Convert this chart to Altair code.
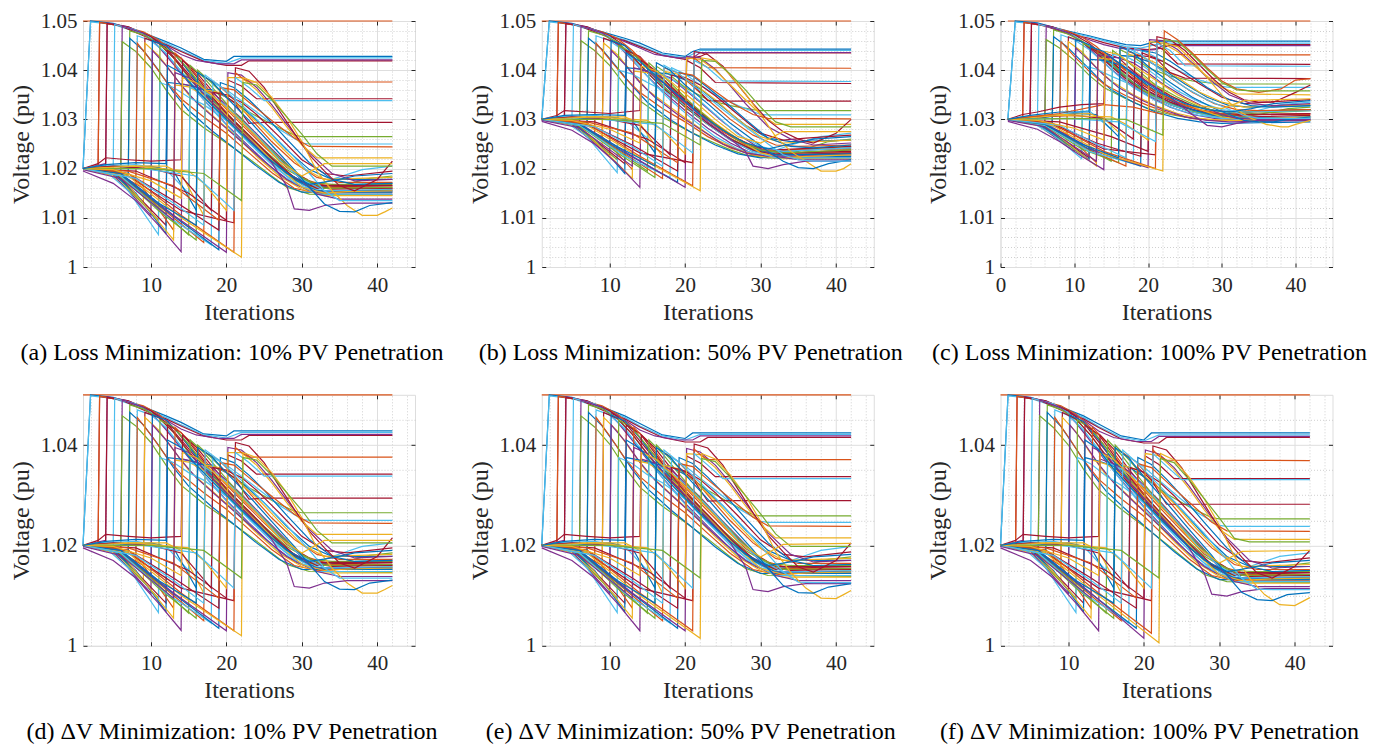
import altair as alt
import pandas as pd

COLORS = ["#0072BD", "#D95319", "#EDB120", "#7E2F8E", "#77AC30", "#4DBEEE", "#A2142F"]
LINE_COLORS = [1, 0, 5, 6, 3, 1, 6, 5, 3, 4, 4, 0, 5, 1, 6, 2, 0, 3, 4, 5,
               6, 0, 1, 2, 6, 3, 4, 5, 4, 0, 1, 2, 5, 6, 0, 6, 3, 6, 2, 6,
               1, 5, 2, 1, 3, 0, 5, 4, 2, 0]

# Each line: [iteration, voltage, iteration, voltage, ...]
LINES_A = [
    [1,1.05, 42,1.05],
    [1,1.02, 2,1.05, 5,1.0495, 9,1.0476, 12,1.0458, 14,1.0445, 17,1.0422, 20,1.0418, 21,1.0428, 42,1.0428],
    [1,1.02, 2,1.0498, 5,1.0493, 9,1.0473, 12,1.0455, 14,1.044, 17,1.042, 20,1.0414, 22,1.0425, 42,1.0425],
    [1,1.0198, 3,1.0202, 3.2,1.0497, 6,1.049, 9,1.047, 12,1.0452, 14,1.0438, 17,1.0418, 20,1.041, 22,1.041, 23,1.0419, 42,1.0419],
    [1,1.02, 4,1.021, 4.2,1.0496, 7,1.0488, 10,1.0468, 12,1.045, 14,1.0432, 16,1.042, 19,1.0413, 21,1.0413, 22,1.0421, 42,1.0421],
    [1,1.02, 3,1.0205, 3.2,1.0497, 6,1.049, 9,1.0478, 11,1.0462, 13,1.0435, 15,1.0398, 18,1.0348, 21,1.0298, 24,1.025, 27,1.0205, 30,1.0168, 33,1.0152, 42,1.0152],
    [1,1.02, 4,1.0205, 4.2,1.0495, 7,1.0488, 10,1.0468, 12,1.0445, 14,1.041, 16,1.0375, 19,1.0325, 22,1.028, 25,1.0235, 28,1.0192, 31,1.0165, 34,1.0158, 42,1.016],
    [1,1.02, 5,1.0198, 5.2,1.0493, 8,1.0482, 10,1.0465, 12,1.0432, 14,1.0398, 16,1.0362, 19,1.0312, 22,1.0268, 25,1.0225, 28,1.0185, 31,1.016, 34,1.0178, 38,1.0198, 42,1.0205],
    [1,1.02, 6,1.0195, 6.2,1.049, 9,1.0475, 11,1.0448, 13,1.0412, 15,1.0375, 17,1.034, 20,1.029, 23,1.0245, 26,1.0202, 29,1.0168, 32,1.015, 35,1.0148, 42,1.0148],
    [1,1.02, 6,1.0193, 6.2,1.0458, 8,1.0438, 10,1.0405, 12,1.036, 14,1.032, 17,1.0283, 20,1.0252, 23,1.022, 26,1.0185, 28,1.0162, 31,1.0148, 42,1.0146],
    [1,1.02, 7,1.0188, 7.2,1.048, 9,1.0472, 11,1.0455, 13,1.0425, 15,1.0385, 17,1.035, 20,1.0302, 23,1.0258, 26,1.0215, 29,1.0178, 32,1.016, 35,1.0165, 39,1.018, 42,1.0185],
    [1,1.02, 7,1.019, 7.2,1.0465, 9,1.044, 11,1.04, 13,1.0355, 15,1.0318, 18,1.0278, 21,1.0242, 24,1.0205, 27,1.0172, 30,1.0152, 42,1.0152],
    [1,1.02, 5,1.0195, 8,1.0178, 8.2,1.047, 10,1.046, 12,1.0435, 14,1.0398, 16,1.0358, 18,1.0322, 21,1.0272, 24,1.0228, 27,1.0188, 30,1.0163, 33,1.0155, 42,1.0155],
    [1,1.02, 5,1.019, 8,1.0162, 8.2,1.0455, 10,1.042, 12,1.0378, 14,1.0342, 17,1.0305, 20,1.0272, 23,1.0232, 26,1.0192, 29,1.016, 32,1.015, 42,1.0158],
    [1,1.02, 5,1.0195, 9,1.0152, 9.2,1.0465, 11,1.0455, 13,1.0425, 15,1.0388, 17,1.0352, 20,1.0305, 23,1.026, 26,1.0215, 29,1.018, 32,1.0163, 42,1.0165],
    [1,1.02, 5,1.0185, 9,1.0128, 9.2,1.0455, 11,1.043, 13,1.039, 15,1.035, 18,1.031, 21,1.027, 24,1.0225, 27,1.0185, 30,1.0158, 33,1.0145, 42,1.0145],
    [1,1.02, 5,1.0195, 10,1.0138, 10.2,1.046, 12,1.045, 14,1.0418, 16,1.0378, 18,1.0342, 21,1.0292, 24,1.0245, 27,1.0202, 30,1.0172, 33,1.0165, 42,1.017],
    [1,1.02, 5,1.0188, 10,1.0105, 10.2,1.044, 12,1.041, 14,1.037, 16,1.0335, 19,1.0295, 22,1.0255, 25,1.0215, 28,1.0178, 31,1.0155, 42,1.0155],
    [1,1.02, 5,1.0192, 11,1.0095, 11.2,1.045, 13,1.0435, 15,1.0402, 17,1.0362, 19,1.0328, 22,1.0282, 25,1.0238, 28,1.0198, 31,1.0172, 34,1.0168, 42,1.0168],
    [1,1.02, 4,1.0195, 7,1.0155, 11,1.0066, 11.2,1.0375, 13,1.0365, 15,1.0345, 17,1.033, 20,1.0298, 23,1.0252, 26,1.0208, 29,1.0172, 32,1.0148, 42,1.0148],
    [1,1.02, 5,1.0195, 12,1.0085, 12.2,1.044, 14,1.0425, 16,1.0388, 18,1.0348, 20,1.0312, 23,1.0268, 26,1.0222, 29,1.0182, 32,1.016, 42,1.016],
    [1,1.02, 5,1.019, 8,1.015, 12,1.0068, 12.2,1.0375, 14,1.0372, 16,1.0366, 18,1.034, 20,1.0306, 23,1.0262, 26,1.0218, 29,1.0178, 32,1.0155, 42,1.0155],
    [1,1.02, 5,1.0195, 9,1.016, 13,1.0075, 13.2,1.0435, 15,1.041, 17,1.0372, 19,1.0336, 22,1.029, 25,1.0245, 28,1.0202, 31,1.0175, 34,1.0162, 42,1.0162],
    [1,1.02, 6,1.0185, 13,1.0055, 13.2,1.037, 15,1.0366, 17,1.035, 19,1.0325, 21,1.0292, 24,1.0248, 27,1.0202, 30,1.0162, 33,1.015, 36,1.0153, 42,1.0155],
    [1,1.02, 3,1.021, 4,1.0222, 7,1.0218, 10,1.0215, 14,1.0218, 14.2,1.042, 16,1.0396, 18,1.036, 20,1.0325, 23,1.028, 26,1.0235, 29,1.0192, 32,1.0166, 42,1.0166],
    [1,1.0195, 5,1.017, 8,1.0135, 11,1.0085, 14,1.0031, 14.2,1.0372, 16,1.0366, 18,1.0356, 20,1.033, 22,1.0302, 25,1.0255, 28,1.021, 30,1.0175, 32,1.0148, 35,1.0138, 42,1.0138],
    [1,1.02, 5,1.0195, 10,1.0135, 15,1.0065, 15.2,1.041, 17,1.0385, 19,1.035, 21,1.0315, 24,1.0268, 27,1.0222, 30,1.0182, 33,1.016, 42,1.0162],
    [1,1.02, 3,1.0205, 8,1.0208, 12,1.0198, 15,1.015, 15.2,1.0365, 17,1.0356, 19,1.034, 21,1.0312, 24,1.0268, 27,1.0218, 30,1.0178, 33,1.0155, 42,1.0158],
    [1,1.02, 6,1.0185, 11,1.0115, 16,1.0055, 16.2,1.04, 18,1.0375, 20,1.0345, 23,1.0315, 26,1.029, 29,1.0268, 30,1.0265, 42,1.0265],
    [1,1.02, 5,1.02, 10,1.0205, 13,1.0195, 16,1.0115, 16.2,1.0362, 18,1.036, 20,1.0345, 22,1.0325, 25,1.0285, 28,1.0238, 31,1.0198, 34,1.0178, 42,1.0178],
    [1,1.02, 6,1.0188, 11,1.0125, 17,1.005, 17.2,1.0385, 19,1.037, 21,1.034, 23,1.0305, 26,1.0255, 29,1.0212, 32,1.0182, 35,1.0172, 42,1.0172],
    [1,1.02, 6,1.0205, 12,1.0205, 14,1.019, 17,1.0105, 17.2,1.036, 19,1.0355, 21,1.0335, 24,1.0295, 27,1.0248, 30,1.0202, 33,1.0178, 42,1.0182],
    [1,1.02, 6,1.0185, 12,1.0105, 18,1.0045, 18.2,1.0375, 20,1.036, 22,1.0338, 24,1.0315, 27,1.028, 30,1.0252, 31,1.025, 42,1.025],
    [1,1.02, 5,1.0205, 10,1.02, 14,1.0185, 18,1.0115, 18.2,1.0355, 20,1.035, 22,1.0335, 24,1.031, 27,1.0265, 30,1.0218, 33,1.019, 36,1.0185, 42,1.0195],
    [1,1.02, 6,1.0188, 12,1.0115, 19,1.0035, 19.2,1.0375, 21,1.0365, 23,1.034, 25,1.031, 28,1.026, 31,1.0212, 34,1.0178, 37,1.0168, 42,1.017],
    [1,1.02, 7,1.019, 13,1.0135, 19,1.0075, 19.2,1.0355, 21,1.0335, 23,1.0292, 25,1.0294, 42,1.0294],
    [1,1.02, 6,1.019, 13,1.0105, 20,1.003, 20.2,1.0395, 22,1.039, 24,1.0365, 26,1.033, 28,1.029, 31,1.0232, 34,1.019, 37,1.0175, 42,1.0178],
    [1,1.02, 8,1.0195, 15,1.015, 20,1.0095, 20.2,1.038, 22,1.0368, 24,1.0342, 42,1.0342],
    [1,1.02, 8,1.0205, 15,1.0195, 17,1.017, 20,1.0115, 20.2,1.0385, 22,1.0385, 24,1.036, 26,1.0325, 28,1.0285, 30,1.0248, 32,1.0222, 42,1.0222],
    [1,1.02, 7,1.0185, 14,1.0115, 21,1.009, 21.2,1.0405, 23,1.0398, 25,1.0365, 27,1.0318, 29,1.0272, 31,1.0228, 33,1.0195, 35,1.0165, 37,1.0155, 40,1.0178, 42,1.0215],
    [1,1.02, 7,1.019, 14,1.0105, 21,1.003, 21.2,1.0395, 22,1.0385, 23,1.0376, 42,1.0376],
    [1,1.02, 9,1.02, 16,1.0185, 21,1.0115, 21.2,1.0385, 23,1.0365, 25,1.0338, 42,1.0338],
    [1,1.02, 7,1.0185, 14,1.01, 22,1.002, 22.2,1.0385, 24,1.0375, 26,1.0345, 28,1.0305, 30,1.0255, 32,1.0195, 34,1.0155, 36,1.0125, 38,1.0105, 40,1.0105, 41,1.0112, 42,1.012],
    [1,1.02, 7,1.0195, 13,1.0165, 19,1.0095, 19.2,1.0365, 21,1.036, 23,1.0335, 26,1.0298, 29,1.0262, 31,1.0245, 42,1.0244],
    [1,1.0198, 6,1.018, 13,1.0095, 13.2,1.0395, 15,1.0385, 17,1.0352, 20,1.0305, 23,1.026, 26,1.0212, 28,1.0165, 29,1.0118, 31,1.0115, 33,1.0125, 36,1.013, 42,1.013],
    [1,1.02, 6,1.019, 11,1.013, 16,1.0085, 16.2,1.0395, 18,1.0378, 20,1.0345, 23,1.0298, 26,1.0248, 29,1.0198, 31,1.0162, 33,1.0128, 35,1.0113, 37,1.0112, 39,1.0125, 42,1.0131],
    [1,1.02, 8,1.018, 13,1.013, 17,1.0085, 17.2,1.039, 19,1.037, 22,1.033, 25,1.0285, 28,1.024, 31,1.019, 33,1.0155, 35,1.0135, 37,1.0135, 42,1.0135],
    [1,1.02, 10,1.02, 17,1.019, 22,1.0135, 22.2,1.0375, 24,1.037, 26,1.034, 28,1.0305, 30,1.027, 32,1.023, 34,1.0205, 42,1.0205],
    [1,1.02, 5,1.0198, 10,1.0175, 14,1.014, 14.2,1.0385, 16,1.0375, 18,1.035, 21,1.031, 24,1.0265, 27,1.0215, 30,1.0185, 33,1.021, 42,1.021],
    [1,1.02, 4,1.0208, 8,1.0212, 12,1.021, 12.2,1.041, 14,1.0395, 16,1.036, 19,1.0315, 22,1.027, 25,1.0228, 28,1.019, 31,1.0168, 34,1.0175, 37,1.0185, 42,1.019],
]

LINES_B = [
    [1,1.05, 42,1.05],
    [1,1.03, 2,1.05, 5,1.0495, 9,1.0478, 12,1.0465, 14,1.0455, 17,1.0435, 20,1.0428, 21,1.0438, 22,1.0443, 42,1.0443],
    [1,1.03, 2,1.0498, 5,1.0493, 9,1.0475, 12,1.0462, 14,1.045, 17,1.0432, 20,1.0425, 22,1.044, 42,1.044],
    [1,1.0298, 3,1.0302, 3.2,1.0497, 6,1.049, 9,1.0472, 12,1.046, 14,1.0448, 17,1.043, 20,1.0422, 22,1.0428, 23,1.0435, 42,1.0435],
    [1,1.03, 4,1.0305, 4.2,1.0496, 7,1.0488, 10,1.047, 12,1.0458, 14,1.0445, 16,1.0432, 19,1.0425, 21,1.0425, 22,1.0436, 42,1.0436],
    [1,1.03, 3,1.0303, 3.2,1.0497, 6,1.049, 9,1.0478, 11,1.0465, 13,1.044, 15,1.0408, 18,1.0365, 21,1.0325, 24,1.029, 27,1.026, 30,1.024, 33,1.0232, 42,1.0232],
    [1,1.03, 4,1.0303, 4.2,1.0495, 7,1.0488, 10,1.047, 12,1.045, 14,1.042, 16,1.039, 19,1.0348, 22,1.031, 25,1.0278, 28,1.025, 31,1.0235, 34,1.0232, 42,1.0235],
    [1,1.03, 5,1.0298, 5.2,1.0493, 8,1.0482, 10,1.0468, 12,1.044, 14,1.041, 16,1.038, 19,1.0338, 22,1.0302, 25,1.027, 28,1.0245, 31,1.0232, 34,1.0248, 38,1.0265, 42,1.0272],
    [1,1.03, 6,1.0295, 6.2,1.049, 9,1.0476, 11,1.0452, 13,1.042, 15,1.0388, 17,1.0358, 20,1.0318, 23,1.0282, 26,1.0252, 29,1.023, 32,1.0222, 35,1.0222, 42,1.0222],
    [1,1.03, 6,1.0294, 6.2,1.046, 8,1.044, 10,1.041, 12,1.037, 14,1.0338, 17,1.0305, 20,1.028, 23,1.0258, 26,1.0238, 28,1.0228, 31,1.0222, 42,1.022],
    [1,1.03, 7,1.029, 7.2,1.048, 9,1.0472, 11,1.0458, 13,1.043, 15,1.0395, 17,1.0365, 20,1.0325, 23,1.029, 26,1.026, 29,1.0238, 32,1.0228, 35,1.0235, 39,1.0255, 42,1.026],
    [1,1.03, 7,1.0292, 7.2,1.0465, 9,1.0442, 11,1.0405, 13,1.0368, 15,1.0335, 18,1.03, 21,1.0272, 24,1.0248, 27,1.023, 30,1.0222, 42,1.0225],
    [1,1.03, 5,1.0295, 8,1.0282, 8.2,1.047, 10,1.046, 12,1.0438, 14,1.0405, 16,1.037, 18,1.034, 21,1.03, 24,1.0265, 27,1.024, 30,1.0228, 33,1.0225, 42,1.0228],
    [1,1.03, 5,1.0292, 8,1.027, 8.2,1.0455, 10,1.0422, 12,1.0385, 14,1.0355, 17,1.0322, 20,1.0295, 23,1.0265, 26,1.0242, 29,1.0228, 32,1.0222, 42,1.023],
    [1,1.03, 5,1.0295, 9,1.0262, 9.2,1.0465, 11,1.0455, 13,1.0428, 15,1.0395, 17,1.0365, 20,1.0325, 23,1.029, 26,1.0258, 29,1.0235, 32,1.023, 42,1.0238],
    [1,1.03, 5,1.0288, 9,1.0242, 9.2,1.0455, 11,1.0432, 13,1.0395, 15,1.036, 18,1.0325, 21,1.0292, 24,1.026, 27,1.0238, 30,1.0225, 33,1.022, 42,1.022],
    [1,1.03, 5,1.0295, 10,1.025, 10.2,1.046, 12,1.045, 14,1.042, 16,1.0385, 18,1.0355, 21,1.0315, 24,1.028, 27,1.025, 30,1.0232, 33,1.0235, 42,1.0242],
    [1,1.03, 5,1.029, 10,1.0225, 10.2,1.044, 12,1.0412, 14,1.0375, 16,1.0345, 19,1.031, 22,1.028, 25,1.025, 28,1.0232, 31,1.0225, 42,1.0228],
    [1,1.03, 5,1.0293, 11,1.0218, 11.2,1.045, 13,1.0435, 15,1.0405, 17,1.037, 19,1.034, 22,1.0302, 25,1.027, 28,1.0245, 31,1.0235, 34,1.0238, 42,1.0245],
    [1,1.03, 4,1.0296, 7,1.0265, 11,1.0192, 11.2,1.04, 13,1.0392, 15,1.0375, 17,1.036, 20,1.0328, 23,1.029, 26,1.0258, 29,1.0235, 32,1.0222, 42,1.0222],
    [1,1.03, 5,1.0295, 12,1.021, 12.2,1.044, 14,1.0428, 16,1.0395, 18,1.036, 20,1.033, 23,1.0292, 26,1.026, 29,1.0238, 32,1.0228, 42,1.0232],
    [1,1.03, 5,1.0292, 8,1.026, 12,1.019, 12.2,1.0405, 14,1.0402, 16,1.0395, 18,1.037, 20,1.034, 23,1.0302, 26,1.0268, 29,1.0242, 32,1.0228, 42,1.023],
    [1,1.03, 5,1.0295, 9,1.0265, 13,1.0198, 13.2,1.0435, 15,1.0412, 17,1.0378, 19,1.0348, 22,1.031, 25,1.0275, 28,1.0248, 31,1.0235, 34,1.0238, 42,1.024],
    [1,1.03, 6,1.0288, 13,1.018, 13.2,1.0398, 15,1.0395, 17,1.038, 19,1.0358, 21,1.033, 24,1.0292, 27,1.026, 30,1.0232, 33,1.0222, 36,1.0225, 42,1.0228],
    [1,1.03, 3,1.0308, 4,1.0318, 7,1.0315, 10,1.0312, 14,1.0318, 14.2,1.042, 16,1.04, 18,1.0368, 20,1.034, 23,1.0302, 26,1.0268, 29,1.0245, 32,1.0238, 42,1.0245],
    [1,1.0296, 5,1.0278, 8,1.025, 11,1.021, 14,1.0162, 14.2,1.04, 16,1.0395, 18,1.0385, 20,1.036, 22,1.0335, 25,1.0295, 28,1.026, 30,1.024, 32,1.0225, 35,1.0218, 42,1.0218],
    [1,1.03, 5,1.0295, 10,1.0248, 15,1.0195, 15.2,1.0415, 17,1.039, 19,1.036, 21,1.033, 24,1.029, 27,1.0258, 30,1.0238, 33,1.0232, 42,1.0238],
    [1,1.03, 3,1.0305, 8,1.0308, 12,1.03, 15,1.0262, 15.2,1.0398, 17,1.039, 19,1.0375, 21,1.035, 24,1.031, 27,1.027, 30,1.0245, 33,1.0235, 42,1.0242],
    [1,1.03, 6,1.0288, 11,1.0232, 16,1.0182, 16.2,1.0408, 18,1.039, 20,1.0365, 23,1.034, 26,1.0328, 29,1.032, 30,1.0318, 42,1.0318],
    [1,1.03, 5,1.03, 10,1.0305, 13,1.0298, 16,1.0232, 16.2,1.0395, 18,1.0392, 20,1.038, 22,1.0362, 25,1.0325, 28,1.0288, 31,1.0262, 34,1.0255, 42,1.0258],
    [1,1.03, 6,1.029, 11,1.024, 17,1.018, 17.2,1.0405, 19,1.0395, 21,1.0368, 23,1.034, 26,1.03, 29,1.0268, 32,1.0248, 35,1.0245, 42,1.0248],
    [1,1.03, 6,1.0305, 12,1.0305, 14,1.0292, 17,1.0225, 17.2,1.0398, 19,1.0392, 21,1.0375, 24,1.034, 27,1.03, 30,1.0265, 33,1.0252, 42,1.0258],
    [1,1.03, 6,1.0288, 12,1.0225, 18,1.0182, 18.2,1.0405, 20,1.0392, 22,1.037, 24,1.035, 27,1.0328, 30,1.031, 31,1.0309, 42,1.0309],
    [1,1.03, 5,1.0305, 10,1.03, 14,1.0288, 18,1.0228, 18.2,1.039, 20,1.0385, 22,1.037, 24,1.0348, 27,1.031, 30,1.0272, 33,1.0258, 36,1.0262, 42,1.0268],
    [1,1.03, 6,1.029, 12,1.0232, 19,1.0172, 19.2,1.0395, 21,1.0388, 23,1.0365, 25,1.034, 28,1.03, 31,1.0262, 34,1.0245, 37,1.0242, 42,1.0248],
    [1,1.03, 7,1.0292, 13,1.0248, 19,1.0195, 19.2,1.0388, 21,1.0372, 23,1.0338, 25,1.0337, 42,1.0337],
    [1,1.03, 6,1.0292, 13,1.0225, 20,1.0162, 20.2,1.0428, 22,1.0425, 24,1.0402, 26,1.0368, 28,1.0332, 31,1.0285, 34,1.026, 37,1.0248, 42,1.0252],
    [1,1.03, 8,1.0295, 15,1.026, 20,1.0212, 20.2,1.042, 22,1.0405, 24,1.0375, 42,1.0373],
    [1,1.03, 8,1.0305, 15,1.0298, 17,1.0278, 20,1.023, 20.2,1.0425, 22,1.0422, 24,1.04, 26,1.037, 28,1.034, 30,1.031, 32,1.029, 42,1.029],
    [1,1.03, 7,1.029, 14,1.0232, 21,1.0212, 21.2,1.0438, 23,1.0432, 25,1.0408, 27,1.037, 29,1.0332, 31,1.0298, 33,1.0275, 35,1.026, 37,1.0252, 40,1.0272, 42,1.03],
    [1,1.03, 7,1.0292, 14,1.0225, 21,1.0165, 21.2,1.0425, 22,1.0415, 23,1.0405, 42,1.0404],
    [1,1.03, 9,1.03, 16,1.029, 21,1.0232, 21.2,1.042, 23,1.0405, 25,1.0378, 42,1.0377],
    [1,1.03, 7,1.0288, 14,1.0222, 22,1.0155, 22.2,1.0425, 24,1.042, 26,1.039, 28,1.0352, 30,1.031, 32,1.0265, 34,1.0235, 36,1.0215, 38,1.0195, 40,1.0195, 41,1.02, 42,1.021],
    [1,1.03, 7,1.0295, 13,1.0272, 19,1.0212, 19.2,1.0395, 21,1.039, 23,1.0368, 26,1.0335, 29,1.031, 31,1.0302, 42,1.0301],
    [1,1.0298, 6,1.0283, 13,1.0205, 13.2,1.0405, 15,1.0398, 17,1.0375, 20,1.0335, 23,1.0295, 26,1.026, 28,1.0235, 29,1.0205, 31,1.02, 33,1.0208, 36,1.0215, 42,1.0215],
    [1,1.03, 6,1.029, 11,1.0245, 16,1.0205, 16.2,1.0415, 18,1.04, 20,1.037, 23,1.0332, 26,1.0292, 29,1.0258, 31,1.0235, 33,1.0215, 35,1.0202, 37,1.02, 39,1.021, 42,1.0218],
    [1,1.03, 8,1.0285, 13,1.0245, 17,1.0205, 17.2,1.041, 19,1.0395, 22,1.0358, 25,1.032, 28,1.0285, 31,1.025, 33,1.0228, 35,1.0218, 37,1.0215, 42,1.0215],
    [1,1.03, 10,1.03, 17,1.0292, 22,1.0248, 22.2,1.042, 24,1.0418, 26,1.0392, 28,1.036, 30,1.0325, 32,1.0295, 34,1.0285, 42,1.0285],
    [1,1.03, 5,1.0298, 10,1.028, 14,1.0252, 14.2,1.0408, 16,1.04, 18,1.0378, 21,1.034, 24,1.03, 27,1.0265, 30,1.0252, 33,1.0275, 42,1.0275],
    [1,1.03, 4,1.0308, 8,1.031, 12,1.0308, 12.2,1.0435, 14,1.0418, 16,1.039, 19,1.035, 22,1.031, 25,1.0278, 28,1.0252, 31,1.024, 34,1.025, 37,1.026, 42,1.0265],
]

LINES_C = [
    [1,1.05, 42,1.05],
    [1,1.03, 2,1.05, 5,1.0496, 9,1.048, 12,1.047, 14,1.0462, 17,1.0452, 19,1.045, 21,1.0458, 22,1.0459, 42,1.0459],
    [1,1.03, 2,1.0498, 5,1.0494, 9,1.0478, 12,1.0468, 14,1.046, 17,1.0448, 19,1.0445, 21,1.0452, 22,1.0455, 42,1.0455],
    [1,1.0298, 3,1.0302, 3.2,1.0497, 6,1.049, 9,1.0475, 12,1.0465, 14,1.0456, 17,1.0445, 20,1.0442, 22,1.0445, 23,1.0452, 42,1.0452],
    [1,1.03, 4,1.0305, 4.2,1.0496, 7,1.0488, 10,1.0472, 12,1.0462, 14,1.0452, 16,1.0445, 19,1.044, 21,1.0442, 22,1.045, 42,1.045],
    [1,1.03, 3,1.0303, 3.2,1.0497, 6,1.049, 9,1.048, 11,1.0468, 13,1.0448, 15,1.042, 18,1.0388, 21,1.0358, 24,1.0335, 27,1.032, 30,1.0312, 33,1.031, 42,1.031],
    [1,1.03, 4,1.0303, 4.2,1.0495, 7,1.0488, 10,1.0472, 12,1.0455, 14,1.043, 16,1.0405, 19,1.0372, 22,1.0345, 25,1.0325, 28,1.0312, 31,1.0305, 34,1.0305, 42,1.0308],
    [1,1.03, 5,1.0298, 5.2,1.0493, 8,1.0483, 10,1.047, 12,1.0448, 14,1.042, 16,1.0395, 19,1.0362, 22,1.0338, 25,1.032, 28,1.031, 31,1.0302, 34,1.0315, 38,1.033, 42,1.0335],
    [1,1.03, 6,1.0295, 6.2,1.049, 9,1.0477, 11,1.0458, 13,1.043, 15,1.0402, 17,1.0378, 20,1.0348, 23,1.0325, 26,1.031, 29,1.0302, 32,1.03, 35,1.03, 42,1.03],
    [1,1.03, 6,1.0294, 6.2,1.0462, 8,1.0445, 10,1.042, 12,1.039, 14,1.0365, 17,1.0342, 20,1.0322, 23,1.031, 26,1.0302, 29,1.0298, 42,1.0298],
    [1,1.03, 7,1.029, 7.2,1.0482, 9,1.0474, 11,1.046, 13,1.0438, 15,1.041, 17,1.0385, 20,1.0352, 23,1.033, 26,1.0315, 29,1.0305, 32,1.0302, 35,1.031, 39,1.0322, 42,1.0325],
    [1,1.03, 7,1.0292, 7.2,1.0468, 9,1.0448, 11,1.0418, 13,1.0388, 15,1.036, 18,1.0335, 21,1.0315, 24,1.0302, 27,1.0295, 30,1.0292, 42,1.0295],
    [1,1.03, 5,1.0295, 8,1.0282, 8.2,1.0472, 10,1.0462, 12,1.0442, 14,1.0415, 16,1.0388, 18,1.0365, 21,1.0338, 24,1.032, 27,1.0308, 30,1.0302, 33,1.0302, 42,1.0305],
    [1,1.03, 5,1.0292, 8,1.0272, 8.2,1.0458, 10,1.0428, 12,1.0398, 14,1.0372, 17,1.0348, 20,1.0328, 23,1.0312, 26,1.0302, 29,1.0298, 32,1.0298, 42,1.0302],
    [1,1.03, 5,1.0295, 9,1.0265, 9.2,1.0468, 11,1.0458, 13,1.0435, 15,1.0408, 17,1.0382, 20,1.035, 23,1.033, 26,1.0315, 29,1.0308, 32,1.0308, 42,1.0312],
    [1,1.03, 5,1.0288, 9,1.0248, 9.2,1.0458, 11,1.0438, 13,1.0405, 15,1.0378, 18,1.035, 21,1.0328, 24,1.0312, 27,1.0302, 30,1.0298, 33,1.0298, 42,1.03],
    [1,1.03, 5,1.0295, 10,1.0255, 10.2,1.0462, 12,1.0452, 14,1.0428, 16,1.04, 18,1.0375, 21,1.0348, 24,1.0328, 27,1.0315, 30,1.031, 33,1.0315, 42,1.032],
    [1,1.03, 5,1.029, 10,1.0235, 10.2,1.0445, 12,1.042, 14,1.039, 16,1.0365, 19,1.034, 22,1.032, 25,1.0305, 28,1.0298, 31,1.0295, 42,1.0298],
    [1,1.03, 5,1.0293, 11,1.0228, 11.2,1.0455, 13,1.044, 15,1.0415, 17,1.0388, 19,1.0362, 22,1.0338, 25,1.032, 28,1.031, 31,1.0308, 34,1.0312, 42,1.0318],
    [1,1.03, 4,1.0296, 7,1.027, 11,1.022, 11.2,1.041, 13,1.0402, 15,1.0388, 17,1.0375, 20,1.035, 23,1.033, 26,1.0315, 29,1.0305, 32,1.03, 42,1.03],
    [1,1.03, 5,1.0295, 12,1.0222, 12.2,1.0445, 14,1.0432, 16,1.0405, 18,1.038, 20,1.0358, 23,1.0335, 26,1.032, 29,1.0312, 32,1.031, 42,1.0312],
    [1,1.03, 5,1.0292, 8,1.0262, 12,1.0218, 12.2,1.0422, 14,1.042, 16,1.0412, 18,1.0392, 20,1.0368, 23,1.034, 26,1.032, 29,1.0308, 32,1.0302, 42,1.0305],
    [1,1.03, 5,1.0295, 9,1.027, 13,1.0212, 13.2,1.0442, 15,1.0425, 17,1.04, 19,1.0375, 22,1.0348, 25,1.0328, 28,1.0315, 31,1.031, 34,1.0315, 42,1.032],
    [1,1.03, 6,1.0288, 13,1.0205, 13.2,1.0425, 15,1.0422, 17,1.041, 19,1.039, 21,1.0368, 24,1.034, 27,1.032, 30,1.0305, 33,1.03, 36,1.0302, 42,1.0305],
    [1,1.03, 3,1.031, 5,1.0315, 8,1.0325, 11,1.033, 14,1.0332, 14.2,1.0435, 16,1.0425, 18,1.0398, 20,1.0375, 23,1.0348, 26,1.0328, 29,1.0318, 32,1.0315, 42,1.032],
    [1,1.0296, 5,1.028, 8,1.0255, 11,1.0225, 14,1.0198, 14.2,1.0428, 16,1.0425, 18,1.0415, 20,1.0395, 22,1.0372, 25,1.0345, 28,1.0322, 30,1.031, 32,1.0302, 35,1.03, 42,1.03],
    [1,1.03, 5,1.0295, 10,1.0255, 15,1.0215, 15.2,1.044, 17,1.042, 19,1.0395, 21,1.037, 24,1.0345, 27,1.0325, 30,1.0315, 33,1.0315, 42,1.032],
    [1,1.03, 3,1.0305, 8,1.031, 12,1.0318, 15,1.028, 15.2,1.0432, 17,1.0428, 19,1.0412, 21,1.039, 24,1.0358, 27,1.0335, 30,1.032, 33,1.0315, 42,1.0318],
    [1,1.03, 6,1.0288, 11,1.024, 16,1.0212, 16.2,1.0442, 18,1.0428, 20,1.0405, 23,1.0388, 26,1.0378, 29,1.0373, 30,1.0372, 42,1.0372],
    [1,1.03, 5,1.0302, 10,1.0312, 13,1.031, 16,1.0265, 16.2,1.043, 18,1.0428, 20,1.0418, 22,1.0402, 25,1.0372, 28,1.0345, 31,1.0328, 34,1.0325, 42,1.0328],
    [1,1.03, 6,1.029, 11,1.0245, 17,1.0205, 17.2,1.0438, 19,1.043, 21,1.041, 23,1.0385, 26,1.0355, 29,1.0332, 32,1.032, 35,1.0318, 42,1.032],
    [1,1.03, 6,1.0308, 12,1.0312, 14,1.0302, 17,1.026, 17.2,1.0432, 19,1.0428, 21,1.0415, 24,1.0385, 27,1.0355, 30,1.0335, 33,1.0325, 42,1.033],
    [1,1.03, 6,1.0288, 12,1.0235, 18,1.021, 18.2,1.0445, 20,1.0435, 22,1.0418, 24,1.04, 27,1.038, 30,1.0367, 31,1.0365, 42,1.0365],
    [1,1.03, 5,1.0305, 10,1.0308, 14,1.0302, 18,1.026, 18.2,1.043, 20,1.0428, 22,1.0418, 24,1.04, 27,1.0372, 30,1.0345, 33,1.0332, 36,1.0335, 42,1.034],
    [1,1.03, 6,1.029, 12,1.024, 19,1.0205, 19.2,1.044, 21,1.0435, 23,1.0418, 25,1.0398, 28,1.0365, 31,1.034, 34,1.0328, 37,1.0325, 42,1.0328],
    [1,1.03, 7,1.0292, 13,1.0252, 19,1.0225, 19.2,1.0435, 21,1.0425, 23,1.0395, 25,1.0384, 42,1.0383],
    [1,1.03, 6,1.0292, 13,1.0235, 20,1.0202, 20.2,1.0462, 22,1.046, 24,1.0442, 26,1.0415, 28,1.0385, 31,1.035, 34,1.0332, 37,1.0328, 42,1.0332],
    [1,1.03, 8,1.0295, 15,1.0265, 20,1.0235, 20.2,1.0455, 22,1.0442, 24,1.0413, 42,1.0412],
    [1,1.03, 8,1.0308, 15,1.0305, 17,1.029, 20,1.0258, 20.2,1.0458, 22,1.0455, 24,1.0438, 26,1.0412, 28,1.0388, 30,1.0365, 32,1.0352, 42,1.035],
    [1,1.03, 7,1.029, 14,1.024, 21,1.0228, 21.2,1.0468, 23,1.0462, 25,1.044, 27,1.041, 29,1.038, 31,1.0355, 33,1.034, 35,1.0335, 37,1.0335, 40,1.0355, 42,1.037],
    [1,1.03, 7,1.0292, 14,1.0235, 21,1.02, 21.2,1.046, 22,1.0448, 23,1.0432, 42,1.0431],
    [1,1.03, 9,1.0302, 16,1.0295, 21,1.0255, 21.2,1.0455, 23,1.044, 25,1.0409, 42,1.0408],
    [1,1.03, 7,1.0288, 14,1.023, 22,1.0195, 22.2,1.0455, 24,1.0448, 26,1.042, 28,1.0385, 30,1.035, 32,1.032, 34,1.0302, 36,1.029, 38,1.0285, 39,1.0285, 40,1.029, 42,1.0298],
    [1,1.03, 8,1.0312, 14,1.033, 18,1.0325, 22,1.031, 22.2,1.048, 24,1.0462, 26,1.0435, 28,1.0405, 30,1.0378, 32,1.0362, 35,1.0355, 38,1.0362, 40,1.038, 42,1.0383],
    [1,1.0298, 6,1.0285, 13,1.0215, 13.2,1.0432, 15,1.0425, 17,1.0405, 20,1.0375, 23,1.0345, 26,1.031, 28,1.0288, 30,1.0285, 32,1.0292, 35,1.0298, 42,1.03],
    [1,1.03, 6,1.029, 11,1.025, 16,1.0222, 16.2,1.0448, 18,1.0435, 20,1.0408, 23,1.0375, 26,1.0345, 29,1.0322, 31,1.031, 33,1.0298, 35,1.0295, 37,1.0295, 39,1.03, 42,1.0305],
    [1,1.03, 8,1.0288, 13,1.025, 17,1.0222, 17.2,1.0445, 19,1.0432, 22,1.0398, 25,1.0365, 28,1.034, 31,1.032, 33,1.0308, 35,1.0302, 37,1.0302, 42,1.0302],
    [1,1.03, 10,1.0302, 17,1.03, 22,1.0268, 22.2,1.0462, 24,1.0458, 26,1.0432, 28,1.0402, 30,1.0375, 32,1.036, 34,1.0358, 42,1.0358],
    [1,1.03, 5,1.0298, 10,1.0282, 14,1.0258, 14.2,1.0438, 16,1.0432, 18,1.041, 21,1.038, 24,1.035, 27,1.0328, 30,1.0322, 33,1.0338, 42,1.0342],
    [1,1.03, 4,1.0308, 8,1.0315, 12,1.0315, 12.2,1.0448, 14,1.0438, 16,1.0415, 19,1.0382, 22,1.0352, 25,1.0332, 28,1.032, 31,1.0315, 34,1.0322, 37,1.0332, 42,1.0338],
]

LINES_E = [
    [1,1.05, 42,1.05],
    [1,1.02, 2,1.05, 5,1.0495, 9,1.0476, 12,1.0458, 14,1.0443, 17,1.042, 20,1.0413, 21,1.0424, 42,1.0424],
    [1,1.02, 2,1.0498, 5,1.0493, 9,1.0473, 12,1.0455, 14,1.0438, 17,1.0418, 20,1.041, 22,1.0421, 42,1.0421],
    [1,1.0198, 3,1.0202, 3.2,1.0497, 6,1.049, 9,1.047, 12,1.0452, 14,1.0436, 17,1.0415, 20,1.0406, 22,1.0406, 23,1.0415, 42,1.0415],
    [1,1.02, 4,1.021, 4.2,1.0496, 7,1.0488, 10,1.0468, 12,1.045, 14,1.043, 16,1.0418, 19,1.041, 21,1.041, 22,1.0418, 42,1.0418],
    [1,1.02, 3,1.0205, 3.2,1.0497, 6,1.049, 9,1.0478, 11,1.0462, 13,1.0435, 15,1.0396, 18,1.0345, 21,1.0293, 24,1.0243, 27,1.0197, 30,1.016, 33,1.0144, 42,1.0144],
    [1,1.02, 4,1.0205, 4.2,1.0495, 7,1.0488, 10,1.0468, 12,1.0445, 14,1.0408, 16,1.0372, 19,1.032, 22,1.0273, 25,1.0227, 28,1.0184, 31,1.0157, 34,1.015, 42,1.0152],
    [1,1.02, 5,1.0198, 5.2,1.0493, 8,1.0482, 10,1.0465, 12,1.043, 14,1.0395, 16,1.0358, 19,1.0307, 22,1.0261, 25,1.0217, 28,1.0177, 31,1.0152, 34,1.017, 38,1.019, 42,1.0198],
    [1,1.02, 6,1.0195, 6.2,1.049, 9,1.0475, 11,1.0446, 13,1.0409, 15,1.0371, 17,1.0335, 20,1.0284, 23,1.0238, 26,1.0194, 29,1.016, 32,1.0142, 35,1.014, 42,1.014],
    [1,1.02, 6,1.0193, 6.2,1.0458, 8,1.0436, 10,1.0402, 12,1.0356, 14,1.0316, 17,1.0278, 20,1.0246, 23,1.0213, 26,1.0177, 28,1.0154, 31,1.014, 42,1.0138],
    [1,1.02, 7,1.0188, 7.2,1.048, 9,1.0472, 11,1.0453, 13,1.0422, 15,1.0381, 17,1.0345, 20,1.0296, 23,1.0251, 26,1.0207, 29,1.017, 32,1.0152, 35,1.0157, 39,1.0172, 42,1.0177],
    [1,1.02, 7,1.019, 7.2,1.0465, 9,1.0438, 11,1.0396, 13,1.0351, 15,1.0313, 18,1.0272, 21,1.0235, 24,1.0197, 27,1.0164, 30,1.0144, 42,1.0144],
    [1,1.02, 5,1.0195, 8,1.0178, 8.2,1.047, 10,1.046, 12,1.0433, 14,1.0394, 16,1.0353, 18,1.0316, 21,1.0265, 24,1.022, 27,1.018, 30,1.0155, 33,1.0147, 42,1.0147],
    [1,1.02, 5,1.019, 8,1.0162, 8.2,1.0455, 10,1.0418, 12,1.0374, 14,1.0337, 17,1.0299, 20,1.0265, 23,1.0224, 26,1.0184, 29,1.0152, 32,1.0142, 42,1.015],
    [1,1.02, 5,1.0195, 9,1.0152, 9.2,1.0465, 11,1.0453, 13,1.0421, 15,1.0383, 17,1.0346, 20,1.0298, 23,1.0252, 26,1.0207, 29,1.0172, 32,1.0155, 42,1.0157],
    [1,1.02, 5,1.0185, 9,1.0128, 9.2,1.0455, 11,1.0428, 13,1.0386, 15,1.0345, 18,1.0304, 21,1.0263, 24,1.0217, 27,1.0177, 30,1.015, 33,1.0137, 42,1.0137],
    [1,1.02, 5,1.0195, 10,1.0138, 10.2,1.046, 12,1.0448, 14,1.0414, 16,1.0373, 18,1.0336, 21,1.0285, 24,1.0237, 27,1.0194, 30,1.0164, 33,1.0157, 42,1.0162],
    [1,1.02, 5,1.0188, 10,1.0105, 10.2,1.044, 12,1.0408, 14,1.0366, 16,1.033, 19,1.0289, 22,1.0248, 25,1.0207, 28,1.017, 31,1.0147, 42,1.0147],
    [1,1.02, 5,1.0192, 11,1.0095, 11.2,1.045, 13,1.0433, 15,1.0398, 17,1.0357, 19,1.0322, 22,1.0275, 25,1.023, 28,1.019, 31,1.0164, 34,1.016, 42,1.016],
    [1,1.02, 4,1.0195, 7,1.0155, 11,1.0066, 11.2,1.0375, 13,1.0363, 15,1.0341, 17,1.0325, 20,1.0292, 23,1.0245, 26,1.02, 29,1.0164, 32,1.014, 42,1.014],
    [1,1.02, 5,1.0195, 12,1.0085, 12.2,1.044, 14,1.0423, 16,1.0384, 18,1.0343, 20,1.0306, 23,1.0261, 26,1.0214, 29,1.0174, 32,1.0152, 42,1.0152],
    [1,1.02, 5,1.019, 8,1.015, 12,1.0068, 12.2,1.0375, 14,1.037, 16,1.0362, 18,1.0335, 20,1.03, 23,1.0255, 26,1.021, 29,1.017, 32,1.0147, 42,1.0147],
    [1,1.02, 5,1.0195, 9,1.016, 13,1.0075, 13.2,1.0435, 15,1.0408, 17,1.0368, 19,1.0331, 22,1.0284, 25,1.0238, 28,1.0194, 31,1.0167, 34,1.0154, 42,1.0154],
    [1,1.02, 6,1.0185, 13,1.0055, 13.2,1.037, 15,1.0364, 17,1.0346, 19,1.032, 21,1.0286, 24,1.0241, 27,1.0194, 30,1.0154, 33,1.0142, 36,1.0145, 42,1.0147],
    [1,1.02, 3,1.021, 4,1.0222, 7,1.0218, 10,1.0215, 14,1.0218, 14.2,1.042, 16,1.0394, 18,1.0356, 20,1.032, 23,1.0274, 26,1.0228, 29,1.0184, 32,1.0158, 42,1.0158],
    [1,1.0195, 5,1.017, 8,1.0135, 11,1.0085, 14,1.003, 14.2,1.0372, 16,1.0364, 18,1.0352, 20,1.0325, 22,1.0296, 25,1.0248, 28,1.0202, 30,1.0167, 32,1.014, 35,1.013, 42,1.013],
    [1,1.02, 5,1.0195, 10,1.0135, 15,1.0065, 15.2,1.041, 17,1.0383, 19,1.0346, 21,1.031, 24,1.0262, 27,1.0215, 30,1.0174, 33,1.0152, 42,1.0154],
    [1,1.02, 3,1.0205, 8,1.0208, 12,1.0198, 15,1.015, 15.2,1.0365, 17,1.0354, 19,1.0336, 21,1.0307, 24,1.0262, 27,1.0211, 30,1.017, 33,1.0147, 42,1.015],
    [1,1.02, 6,1.0185, 11,1.0115, 16,1.0055, 16.2,1.04, 18,1.0373, 20,1.0341, 23,1.031, 26,1.0284, 29,1.0261, 30,1.0259, 42,1.0259],
    [1,1.02, 5,1.02, 10,1.0205, 13,1.0195, 16,1.0115, 16.2,1.0362, 18,1.0358, 20,1.0341, 22,1.032, 25,1.0279, 28,1.0231, 31,1.019, 34,1.017, 42,1.017],
    [1,1.02, 6,1.0188, 11,1.0125, 17,1.005, 17.2,1.0385, 19,1.0368, 21,1.0336, 23,1.03, 26,1.0249, 29,1.0205, 32,1.0174, 35,1.0164, 42,1.0164],
    [1,1.02, 6,1.0205, 12,1.0205, 14,1.019, 17,1.0105, 17.2,1.036, 19,1.0353, 21,1.0331, 24,1.029, 27,1.0241, 30,1.0195, 33,1.017, 42,1.0174],
    [1,1.02, 6,1.0185, 12,1.0105, 18,1.0045, 18.2,1.0375, 20,1.0358, 22,1.0334, 24,1.031, 27,1.0274, 30,1.0248, 31,1.0246, 42,1.0246],
    [1,1.02, 5,1.0205, 10,1.02, 14,1.0185, 18,1.0115, 18.2,1.0355, 20,1.0348, 22,1.0331, 24,1.0305, 27,1.0259, 30,1.0211, 33,1.0182, 36,1.0177, 42,1.0187],
    [1,1.02, 6,1.0188, 12,1.0115, 19,1.0035, 19.2,1.0375, 21,1.0363, 23,1.0336, 25,1.0305, 28,1.0254, 31,1.0205, 34,1.017, 37,1.016, 42,1.0162],
    [1,1.02, 7,1.019, 13,1.0135, 19,1.0075, 19.2,1.0355, 21,1.0333, 23,1.0288, 25,1.0289, 42,1.0289],
    [1,1.02, 6,1.019, 13,1.0105, 20,1.003, 20.2,1.0393, 22,1.0386, 24,1.036, 26,1.0324, 28,1.0284, 31,1.0225, 34,1.0182, 37,1.0167, 42,1.017],
    [1,1.02, 8,1.0195, 15,1.015, 20,1.0095, 20.2,1.0378, 22,1.0364, 24,1.0337, 42,1.0337],
    [1,1.02, 8,1.0205, 15,1.0195, 17,1.017, 20,1.0115, 20.2,1.0383, 22,1.0381, 24,1.0355, 26,1.0319, 28,1.0279, 30,1.0242, 32,1.0215, 42,1.0215],
    [1,1.02, 7,1.0185, 14,1.0115, 21,1.009, 21.2,1.0402, 23,1.0394, 25,1.036, 27,1.0312, 29,1.0265, 31,1.022, 33,1.0187, 35,1.0157, 37,1.0147, 40,1.017, 42,1.0205],
    [1,1.02, 7,1.019, 14,1.0105, 21,1.003, 21.2,1.0392, 22,1.0381, 23,1.0371, 42,1.0371],
    [1,1.02, 9,1.02, 16,1.0185, 21,1.0115, 21.2,1.0383, 23,1.036, 25,1.0333, 42,1.0333],
    [1,1.02, 7,1.0185, 14,1.01, 22,1.0015, 22.2,1.0383, 24,1.0372, 26,1.034, 28,1.0299, 30,1.0248, 32,1.0187, 34,1.0146, 36,1.0115, 38,1.0095, 40,1.0094, 41,1.0102, 42,1.011],
    [1,1.02, 7,1.0195, 13,1.0165, 19,1.0095, 19.2,1.0363, 21,1.0357, 23,1.0331, 26,1.0293, 29,1.0256, 31,1.0239, 42,1.0238],
    [1,1.0198, 6,1.018, 13,1.0095, 13.2,1.0395, 15,1.0383, 17,1.0348, 20,1.03, 23,1.0254, 26,1.0205, 28,1.0158, 29,1.0112, 31,1.0108, 33,1.0118, 36,1.0124, 42,1.0124],
    [1,1.02, 6,1.019, 11,1.013, 16,1.0085, 16.2,1.0395, 18,1.0376, 20,1.0341, 23,1.0292, 26,1.0241, 29,1.0191, 31,1.0154, 33,1.012, 35,1.0106, 37,1.0105, 39,1.0117, 42,1.0124],
    [1,1.02, 8,1.018, 13,1.013, 17,1.0085, 17.2,1.039, 19,1.0368, 22,1.0325, 25,1.0279, 28,1.0233, 31,1.0182, 33,1.0147, 35,1.0127, 37,1.0126, 42,1.0126],
    [1,1.02, 10,1.02, 17,1.019, 22,1.0135, 22.2,1.0373, 24,1.0367, 26,1.0335, 28,1.0299, 30,1.0263, 32,1.0223, 34,1.0198, 42,1.0198],
    [1,1.02, 5,1.0198, 10,1.0175, 14,1.014, 14.2,1.0385, 16,1.0373, 18,1.0346, 21,1.0304, 24,1.0258, 27,1.0208, 30,1.0177, 33,1.0202, 42,1.0204],
    [1,1.02, 4,1.0208, 8,1.0212, 12,1.021, 12.2,1.041, 14,1.0393, 16,1.0356, 19,1.0309, 22,1.0263, 25,1.022, 28,1.0182, 31,1.016, 34,1.0167, 37,1.0177, 42,1.0182],
]

LINES_F = [
    [1,1.05, 42,1.05],
    [1,1.02, 2,1.05, 5,1.0495, 9,1.0476, 12,1.0458, 14,1.0442, 17,1.0418, 20,1.041, 21,1.0424, 42,1.0424],
    [1,1.02, 2,1.0498, 5,1.0493, 9,1.0473, 12,1.0455, 14,1.0437, 17,1.0415, 20,1.0408, 22,1.042, 42,1.042],
    [1,1.0198, 3,1.0202, 3.2,1.0497, 6,1.049, 9,1.047, 12,1.0452, 14,1.0435, 17,1.0412, 20,1.0404, 22,1.0404, 23,1.0415, 42,1.0415],
    [1,1.02, 4,1.021, 4.2,1.0496, 7,1.0488, 10,1.0468, 12,1.045, 14,1.0428, 16,1.0415, 19,1.0407, 21,1.0407, 22,1.0417, 42,1.0417],
    [1,1.02, 3,1.0205, 3.2,1.0497, 6,1.049, 9,1.0478, 11,1.0462, 13,1.0434, 15,1.0394, 18,1.034, 21,1.0285, 24,1.0232, 27,1.0185, 30,1.0148, 33,1.0131, 42,1.0131],
    [1,1.02, 4,1.0205, 4.2,1.0495, 7,1.0488, 10,1.0468, 12,1.0444, 14,1.0406, 16,1.0368, 19,1.0313, 22,1.0264, 25,1.0216, 28,1.0172, 31,1.0145, 34,1.0138, 42,1.014],
    [1,1.02, 5,1.0198, 5.2,1.0493, 8,1.0482, 10,1.0464, 12,1.0428, 14,1.0392, 16,1.0353, 19,1.03, 22,1.0252, 25,1.0205, 28,1.0165, 31,1.014, 34,1.0158, 38,1.0178, 42,1.0185],
    [1,1.02, 6,1.0195, 6.2,1.049, 9,1.0474, 11,1.0444, 13,1.0406, 15,1.0367, 17,1.033, 20,1.0277, 23,1.0229, 26,1.0183, 29,1.0148, 32,1.013, 35,1.0128, 42,1.0128],
    [1,1.02, 6,1.0193, 6.2,1.0458, 8,1.0435, 10,1.04, 12,1.0352, 14,1.0311, 17,1.0272, 20,1.0238, 23,1.0203, 26,1.0166, 28,1.0142, 31,1.0128, 42,1.0126],
    [1,1.02, 7,1.0188, 7.2,1.048, 9,1.0471, 11,1.0451, 13,1.0419, 15,1.0377, 17,1.034, 20,1.0289, 23,1.0242, 26,1.0196, 29,1.0158, 32,1.014, 35,1.0145, 39,1.016, 42,1.0165],
    [1,1.02, 7,1.019, 7.2,1.0465, 9,1.0437, 11,1.0393, 13,1.0347, 15,1.0308, 18,1.0266, 21,1.0227, 24,1.0188, 27,1.0153, 30,1.0132, 42,1.0132],
    [1,1.02, 5,1.0195, 8,1.0178, 8.2,1.047, 10,1.0459, 12,1.043, 14,1.039, 16,1.0348, 18,1.031, 21,1.0258, 24,1.0211, 27,1.0169, 30,1.0143, 33,1.0135, 42,1.0135],
    [1,1.02, 5,1.019, 8,1.0162, 8.2,1.0455, 10,1.0416, 12,1.037, 14,1.0332, 17,1.0293, 20,1.0258, 23,1.0215, 26,1.0173, 29,1.014, 32,1.013, 42,1.0138],
    [1,1.02, 5,1.0195, 9,1.0152, 9.2,1.0465, 11,1.0452, 13,1.0418, 15,1.0379, 17,1.0341, 20,1.0291, 23,1.0243, 26,1.0196, 29,1.016, 32,1.0143, 42,1.0145],
    [1,1.02, 5,1.0185, 9,1.0128, 9.2,1.0455, 11,1.0426, 13,1.0382, 15,1.034, 18,1.0298, 21,1.0255, 24,1.0208, 27,1.0166, 30,1.0138, 33,1.0125, 42,1.0125],
    [1,1.02, 5,1.0195, 10,1.0138, 10.2,1.046, 12,1.0447, 14,1.041, 16,1.0368, 18,1.033, 21,1.0278, 24,1.0228, 27,1.0183, 30,1.0152, 33,1.0145, 42,1.015],
    [1,1.02, 5,1.0188, 10,1.0105, 10.2,1.044, 12,1.0406, 14,1.0362, 16,1.0325, 19,1.0282, 22,1.024, 25,1.0197, 28,1.0158, 31,1.0135, 42,1.0135],
    [1,1.02, 5,1.0192, 11,1.0095, 11.2,1.045, 13,1.0432, 15,1.0395, 17,1.0352, 19,1.0316, 22,1.0268, 25,1.0221, 28,1.0179, 31,1.0152, 34,1.0148, 42,1.0148],
    [1,1.02, 4,1.0195, 7,1.0155, 11,1.0066, 11.2,1.0375, 13,1.0362, 15,1.0338, 17,1.032, 20,1.0285, 23,1.0237, 26,1.019, 29,1.0152, 32,1.0128, 42,1.0128],
    [1,1.02, 5,1.0195, 12,1.0085, 12.2,1.044, 14,1.0421, 16,1.038, 18,1.0338, 20,1.03, 23,1.0253, 26,1.0204, 29,1.0162, 32,1.014, 42,1.014],
    [1,1.02, 5,1.019, 8,1.015, 12,1.0068, 12.2,1.0375, 14,1.0368, 16,1.0358, 18,1.033, 20,1.0294, 23,1.0247, 26,1.02, 29,1.0158, 32,1.0135, 42,1.0135],
    [1,1.02, 5,1.0195, 9,1.016, 13,1.0075, 13.2,1.0435, 15,1.0406, 17,1.0364, 19,1.0326, 22,1.0277, 25,1.0229, 28,1.0183, 31,1.0155, 34,1.0142, 42,1.0142],
    [1,1.02, 6,1.0185, 13,1.0055, 13.2,1.037, 15,1.0362, 17,1.0342, 19,1.0315, 21,1.028, 24,1.0233, 27,1.0184, 30,1.0142, 33,1.013, 36,1.0133, 42,1.0135],
    [1,1.02, 3,1.021, 4,1.0222, 7,1.0218, 10,1.0215, 14,1.0218, 14.2,1.042, 16,1.0392, 18,1.0352, 20,1.0315, 23,1.0267, 26,1.0219, 29,1.0173, 32,1.0146, 42,1.0146],
    [1,1.0195, 5,1.017, 8,1.0135, 11,1.0085, 14,1.003, 14.2,1.0372, 16,1.0362, 18,1.0348, 20,1.032, 22,1.029, 25,1.024, 28,1.0192, 30,1.0155, 32,1.0128, 35,1.0118, 42,1.0118],
    [1,1.02, 5,1.0195, 10,1.0135, 15,1.0065, 15.2,1.041, 17,1.0381, 19,1.0342, 21,1.0304, 24,1.0254, 27,1.0205, 30,1.0162, 33,1.014, 42,1.0142],
    [1,1.02, 3,1.0205, 8,1.0208, 12,1.0198, 15,1.015, 15.2,1.0365, 17,1.0352, 19,1.0332, 21,1.0301, 24,1.0254, 27,1.0201, 30,1.0158, 33,1.0135, 42,1.0138],
    [1,1.02, 6,1.0185, 11,1.0115, 16,1.0055, 16.2,1.04, 18,1.0371, 20,1.0336, 23,1.0303, 26,1.0277, 29,1.0255, 30,1.0253, 42,1.0253],
    [1,1.02, 5,1.02, 10,1.0205, 13,1.0195, 16,1.0115, 16.2,1.0362, 18,1.0356, 20,1.0337, 22,1.0314, 25,1.0271, 28,1.0221, 31,1.0178, 34,1.0158, 42,1.0158],
    [1,1.02, 6,1.0188, 11,1.0125, 17,1.005, 17.2,1.0385, 19,1.0366, 21,1.0332, 23,1.0294, 26,1.0241, 29,1.0195, 32,1.0162, 35,1.0152, 42,1.0152],
    [1,1.02, 6,1.0205, 12,1.0205, 14,1.019, 17,1.0105, 17.2,1.036, 19,1.0351, 21,1.0327, 24,1.0284, 27,1.0233, 30,1.0185, 33,1.0158, 42,1.0162],
    [1,1.02, 6,1.0185, 12,1.0105, 18,1.0045, 18.2,1.0375, 20,1.0356, 22,1.033, 24,1.0304, 27,1.0266, 30,1.024, 31,1.0238, 42,1.0238],
    [1,1.02, 5,1.0205, 10,1.02, 14,1.0185, 18,1.0115, 18.2,1.0355, 20,1.0346, 22,1.0327, 24,1.0299, 27,1.0251, 30,1.0201, 33,1.017, 36,1.0165, 42,1.0175],
    [1,1.02, 6,1.0188, 12,1.0115, 19,1.0035, 19.2,1.0375, 21,1.0361, 23,1.0332, 25,1.0299, 28,1.0246, 31,1.0195, 34,1.0158, 37,1.0148, 42,1.015],
    [1,1.02, 7,1.019, 13,1.0135, 19,1.0075, 19.2,1.0355, 21,1.033, 23,1.0282, 25,1.0282, 42,1.0282],
    [1,1.02, 6,1.019, 13,1.0105, 20,1.0015, 20.2,1.039, 22,1.0382, 24,1.0355, 26,1.0318, 28,1.0276, 31,1.0215, 34,1.017, 37,1.0155, 42,1.0158],
    [1,1.02, 8,1.0195, 15,1.015, 20,1.0095, 20.2,1.0378, 22,1.0361, 24,1.0333, 42,1.0333],
    [1,1.02, 8,1.0205, 15,1.0195, 17,1.017, 20,1.0115, 20.2,1.0383, 22,1.0379, 24,1.0351, 26,1.0313, 28,1.0271, 30,1.0232, 32,1.0212, 42,1.0212],
    [1,1.02, 7,1.0185, 14,1.0115, 21,1.009, 21.2,1.0398, 23,1.039, 25,1.0355, 27,1.0306, 29,1.0258, 31,1.0211, 33,1.0176, 35,1.0145, 37,1.0135, 40,1.0158, 42,1.019],
    [1,1.02, 7,1.019, 14,1.0105, 21,1.0025, 21.2,1.039, 22,1.0378, 23,1.037, 42,1.0369],
    [1,1.02, 9,1.02, 16,1.0185, 21,1.0115, 21.2,1.0383, 23,1.0358, 25,1.0331, 42,1.0331],
    [1,1.02, 7,1.0185, 14,1.01, 22,1.0006, 22.2,1.0383, 24,1.037, 26,1.0336, 28,1.0293, 30,1.024, 32,1.0178, 34,1.0135, 36,1.0102, 38,1.0082, 40,1.008, 41,1.0088, 42,1.0096],
    [1,1.02, 7,1.0195, 13,1.0165, 19,1.0095, 19.2,1.0363, 21,1.0355, 23,1.0327, 26,1.0286, 29,1.0246, 31,1.0229, 42,1.0228],
    [1,1.0198, 6,1.018, 13,1.0095, 13.2,1.0395, 15,1.0381, 17,1.0344, 20,1.0294, 23,1.0246, 26,1.0195, 28,1.0145, 29,1.0103, 31,1.0099, 33,1.0108, 36,1.0114, 42,1.0114],
    [1,1.02, 6,1.019, 11,1.013, 16,1.0085, 16.2,1.0395, 18,1.0374, 20,1.0337, 23,1.0285, 26,1.0232, 29,1.018, 31,1.0141, 33,1.0106, 35,1.0092, 37,1.009, 39,1.0102, 42,1.0106],
    [1,1.02, 8,1.018, 13,1.013, 17,1.0085, 17.2,1.039, 19,1.0366, 22,1.032, 25,1.0272, 28,1.0224, 31,1.0171, 33,1.0134, 35,1.0113, 37,1.0112, 42,1.0112],
    [1,1.02, 10,1.02, 17,1.019, 22,1.0135, 22.2,1.0373, 24,1.0365, 26,1.0331, 28,1.0293, 30,1.0255, 32,1.0214, 34,1.0207, 42,1.0207],
    [1,1.02, 5,1.0198, 10,1.0175, 14,1.014, 14.2,1.0385, 16,1.0371, 18,1.0342, 21,1.0298, 24,1.025, 27,1.0198, 30,1.0165, 33,1.0188, 42,1.019],
    [1,1.02, 4,1.0208, 8,1.0212, 12,1.021, 12.2,1.041, 14,1.0391, 16,1.0352, 19,1.0303, 22,1.0255, 25,1.021, 28,1.0171, 31,1.0148, 34,1.0155, 37,1.0165, 42,1.017],
]

CAPTIONS = [
    "(a) Loss Minimization: 10% PV Penetration",
    "(b) Loss Minimization: 50% PV Penetration",
    "(c) Loss Minimization: 100% PV Penetration",
    "(d) \u0394V Minimization: 10% PV Penetration",
    "(e) \u0394V Minimization: 50% PV Penetration",
    "(f) \u0394V Minimization: 100% PV Penetration",
]

X_TICKS = [10, 20, 30, 40]
X_TICKS_C = [0, 10, 20, 30, 40]
X_MINOR = [2, 4, 6, 8, 12, 14, 16, 18, 22, 24, 26, 28, 32, 34, 36, 38, 42, 44]
Y_TICKS_TOP = [1.0, 1.01, 1.02, 1.03, 1.04, 1.05]
Y_MINOR_TOP = [1.002, 1.004, 1.006, 1.008, 1.012, 1.014, 1.016, 1.018, 1.022, 1.024,
               1.026, 1.028, 1.032, 1.034, 1.036, 1.038, 1.042, 1.044, 1.046, 1.048]
Y_TICKS_BOT = [1.0, 1.02, 1.04]
Y_MINOR_BOT = [1.005, 1.01, 1.015, 1.025, 1.03, 1.035, 1.045]

FONT = "Liberation Serif"
FONT_STACK = "Liberation Serif, Times New Roman, serif"
AX = "#262626"
W = 332
H_TOP = 246
H_BOT = 251


def frame(lines):
    rows = []
    for i, ln in enumerate(lines):
        for j in range(0, len(ln), 2):
            rows.append({"line": i, "it": ln[j], "v": ln[j + 1], "c": LINE_COLORS[i % len(LINE_COLORS)]})
    return pd.DataFrame(rows)


def panel(lines, xdom, xticks, yticks, yminor, caption, height):
    df = frame(lines)
    xs = alt.Scale(domain=xdom, nice=False, zero=False)
    ys = alt.Scale(domain=[1.0, 1.05], nice=False, zero=False)
    small = alt.Chart(df.iloc[:2])

    def ghost(xaxis, yaxis):
        return small.mark_line(opacity=0).encode(
            x=alt.X("it:Q", scale=xs, axis=xaxis),
            y=alt.Y("v:Q", scale=ys, axis=yaxis),
            detail="line:N",
        )

    minor = ghost(
        alt.Axis(orient="top", values=X_MINOR, grid=True, gridDash=[1, 2], gridColor="#c4c4c4",
                 gridWidth=0.8, labels=False, ticks=False, domain=False, title=""),
        alt.Axis(orient="right", values=yminor, grid=True, gridDash=[1, 2], gridColor="#c4c4c4",
                 gridWidth=0.8, labels=False, ticks=False, domain=False, title=""),
    )
    ticks_a = ghost(
        alt.Axis(orient="bottom", values=xticks, grid=False, labels=False, ticks=True, tickSize=4,
                 offset=-4, tickColor=AX, domain=False, title=""),
        alt.Axis(orient="left", values=yticks, grid=False, labels=False, ticks=True, tickSize=4,
                 offset=-4, tickColor=AX, domain=False, title=""),
    )
    ticks_b = ghost(
        alt.Axis(orient="top", values=xticks, grid=False, labels=False, ticks=True, tickSize=4,
                 offset=-4, tickColor=AX, domain=False, title=""),
        alt.Axis(orient="right", values=yticks, grid=False, labels=False, ticks=True, tickSize=4,
                 offset=-4, tickColor=AX, domain=False, title=""),
    )
    main = alt.Chart(df).mark_line(strokeWidth=1.2).encode(
        x=alt.X("it:Q", scale=xs, axis=alt.Axis(
            orient="bottom", values=xticks, format="d", grid=True, gridColor="#dedede", gridWidth=1,
            ticks=False, domain=False, labelFont=FONT_STACK, labelFontSize=21, labelColor=AX,
            labelPadding=7, labelFlush=False, labelOverlap=False,
            title="Iterations", titleFont=FONT_STACK, titleFontSize=24, titleFontWeight="normal",
            titleColor=AX, titlePadding=5)),
        y=alt.Y("v:Q", scale=ys, axis=alt.Axis(
            orient="left", values=yticks, format=".2~f", grid=True, gridColor="#dedede", gridWidth=1,
            ticks=False, domain=False, labelFont=FONT_STACK, labelFontSize=21, labelColor=AX,
            labelPadding=6, labelOverlap=False,
            title="Voltage (pu)", titleFont=FONT_STACK, titleFontSize=24, titleFontWeight="normal",
            titleColor=AX, titlePadding=7)),
        color=alt.Color("c:N", scale=alt.Scale(domain=list(range(7)), range=COLORS), legend=None),
        detail="line:N",
    )
    return alt.layer(minor, ticks_a, ticks_b, main).resolve_axis(
        x="independent", y="independent"
    ).properties(
        width=W, height=height,
        title=alt.TitleParams(caption, orient="bottom", anchor="middle", frame="group", dx=-17,
                              offset=17, font=FONT, fontSize=24, fontWeight="normal", color="black"),
    )


pa = panel(LINES_A, [1, 45], X_TICKS, Y_TICKS_TOP, Y_MINOR_TOP, CAPTIONS[0], H_TOP)
pb = panel(LINES_B, [1, 45], X_TICKS, Y_TICKS_TOP, Y_MINOR_TOP, CAPTIONS[1], H_TOP)
pc = panel(LINES_C, [0, 45], X_TICKS_C, Y_TICKS_TOP, Y_MINOR_TOP, CAPTIONS[2], H_TOP)
pd_ = panel(LINES_A, [1, 45], X_TICKS, Y_TICKS_BOT, Y_MINOR_BOT, CAPTIONS[3], H_BOT)
pe = panel(LINES_E, [1, 45], X_TICKS, Y_TICKS_BOT, Y_MINOR_BOT, CAPTIONS[4], H_BOT)
pf = panel(LINES_F, [1, 45], X_TICKS, Y_TICKS_BOT, Y_MINOR_BOT, CAPTIONS[5], H_BOT)

chart = alt.concat(
    pa, pb, pc, pd_, pe, pf, columns=3,
    spacing={"row": 127.8, "column": 126.75}, bounds="flush",
).properties(
    padding={"left": 0, "top": 1, "right": 0, "bottom": 0}
).configure_axis(
    labelFont=FONT_STACK, titleFont=FONT_STACK, labelFontSize=21, titleFontSize=24,
    labelColor=AX, titleColor=AX, titleFontWeight="normal",
).configure_view(stroke=AX, strokeWidth=1).configure(background="white", font=FONT)

chart.save("out.html", embed_options={"renderer": "svg", "actions": False})
